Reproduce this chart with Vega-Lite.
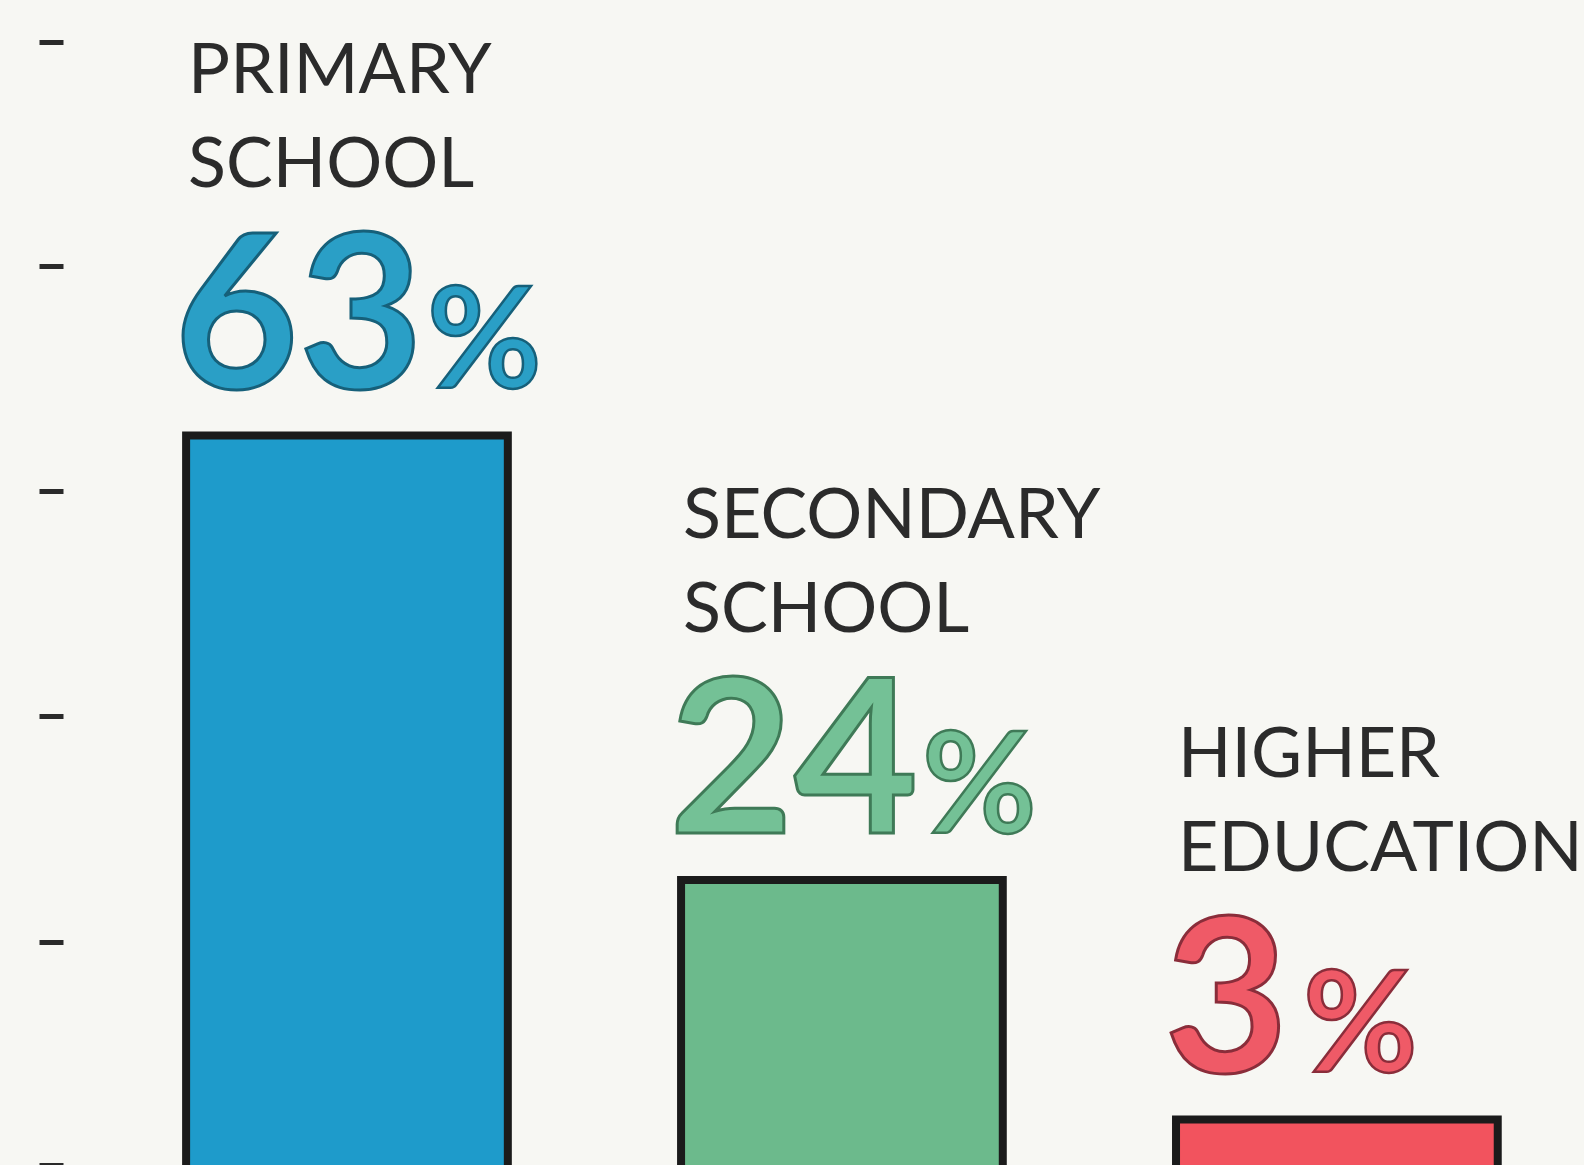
{
  "$schema": "https://vega.github.io/schema/vega-lite/v6.json",
  "autosize": {"type": "none"},
  "padding": {"left": 63, "top": 0, "right": 0, "bottom": 0},
  "width": 1521,
  "height": 1165,
  "background": "#f7f7f3",
  "config": {"view": {"stroke": null}},
  "data": {
    "values": [
      {"level": "Primary school", "label": "PRIMARY\nSCHOOL", "num": "63", "value": 63},
      {"level": "Secondary school", "label": "SECONDARY\nSCHOOL", "num": "24", "value": 24},
      {"level": "Higher education", "label": "HIGHER\nEDUCATION", "num": "3", "value": 3}
    ]
  },
  "encoding": {
    "x": {
      "field": "level",
      "type": "nominal",
      "sort": null,
      "axis": null,
      "scale": {"paddingInner": 0.35, "paddingOuter": 0.2115, "align": 0.588}
    },
    "y": {
      "field": "value",
      "type": "quantitative",
      "scale": {"domain": [-1, 101.2], "nice": false, "zero": false},
      "axis": {
        "values": [-1, 18.6, 38.4, 58.1, 77.9, 97.5],
        "domain": false,
        "labels": false,
        "grid": false,
        "title": null,
        "ticks": true,
        "tickSize": 24,
        "tickWidth": 5,
        "tickColor": "#2a2a2a"
      }
    }
  },
  "layer": [
    {
      "mark": {"type": "bar", "stroke": "#1b1b1b", "strokeWidth": 8, "clip": true},
      "encoding": {
        "y2": {"datum": -3},
        "color": {
          "field": "level",
          "type": "nominal",
          "scale": {
            "domain": ["Primary school", "Secondary school", "Higher education"],
            "range": ["#1e9bcb", "#6cba8c", "#f2535e"]
          },
          "legend": null
        }
      }
    },
    {
      "mark": {
        "type": "text",
        "align": "left",
        "baseline": "alphabetic",
        "dy": -342,
        "dx": 2,
        "font": "Lato",
        "fontSize": 70,
        "letterSpacing": -1.5,
        "lineBreak": "\n",
        "lineHeight": 94,
        "fill": "#2b2b2b"
      },
      "encoding": {
        "x": {"field": "level", "type": "nominal", "sort": null, "bandPosition": 0},
        "text": {"field": "label"}
      }
    },
    {
      "mark": {
        "type": "text",
        "align": "left",
        "baseline": "alphabetic",
        "dy": -47,
        "dx": -12,
        "font": "Lato",
        "fontWeight": "bold",
        "fontSize": 215,
        "strokeWidth": 3
      },
      "encoding": {
        "x": {"field": "level", "type": "nominal", "sort": null, "bandPosition": 0},
        "text": {"field": "num"},
        "fill": {
          "field": "level",
          "type": "nominal",
          "scale": {
            "domain": ["Primary school", "Secondary school", "Higher education"],
            "range": ["#2a9fc6", "#74c196", "#ef5a67"]
          },
          "legend": null
        },
        "stroke": {
          "field": "level",
          "type": "nominal",
          "scale": {
            "domain": ["Primary school", "Secondary school", "Higher education"],
            "range": ["#16607a", "#3f7a57", "#8a2d3a"]
          },
          "legend": null
        }
      }
    },
    {
      "mark": {
        "type": "text",
        "align": "left",
        "baseline": "alphabetic",
        "dy": -47,
        "dx": {"expr": "length(datum.num) * 114 + 13"},
        "font": "Lato",
        "fontWeight": "bold",
        "fontSize": 140,
        "strokeWidth": 2.5,
        "text": "%"
      },
      "encoding": {
        "x": {"field": "level", "type": "nominal", "sort": null, "bandPosition": 0},
        "fill": {
          "field": "level",
          "type": "nominal",
          "scale": {
            "domain": ["Primary school", "Secondary school", "Higher education"],
            "range": ["#2a9fc6", "#74c196", "#ef5a67"]
          },
          "legend": null
        },
        "stroke": {
          "field": "level",
          "type": "nominal",
          "scale": {
            "domain": ["Primary school", "Secondary school", "Higher education"],
            "range": ["#16607a", "#3f7a57", "#8a2d3a"]
          },
          "legend": null
        }
      }
    }
  ]
}
